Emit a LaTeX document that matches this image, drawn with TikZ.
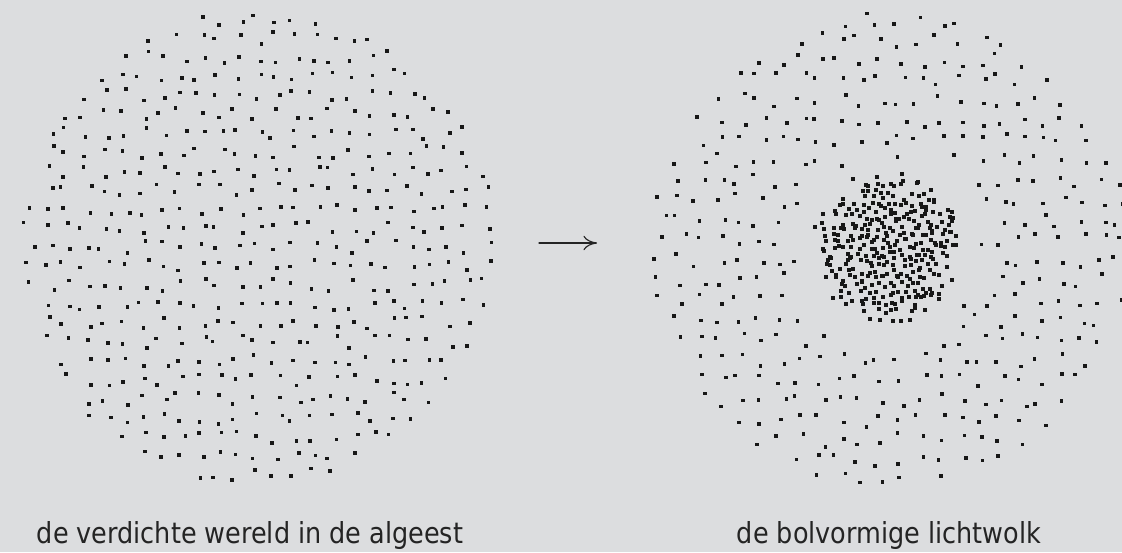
\documentclass[tikz,border=0pt]{standalone}
\usepackage{fontspec}
\usepackage{tikz}
\usetikzlibrary{calc}
\usetikzlibrary{arrows,arrows.meta}
\newfontfamily\onderschrift[FakeStretch=0.88]{DejaVu Sans}
\definecolor{dcdddf}{rgb}{0.8627,0.8667,0.8745}
\definecolor{qqqqqq}{rgb}{0.09,0.09,0.09}
\definecolor{ttttqq}{rgb}{0.14,0.14,0.14}
\tikzstyle{every node}=[font=\fontsize{20.6}{24}\onderschrift,color=ttttqq,anchor=base,inner sep=0pt]
\tikzstyle{stip}=[fill=qqqqqq]

\begin{document}
\begin{tikzpicture}[line cap=round,line join=round,>={Computer Modern Rightarrow[length=3.4mm,width=3.6mm]},x=0.025cm,y=-0.025cm]
    \clip(0,0) rectangle (1122,552);
    \fill[color=dcdddf] (0,0) rectangle (1122,552);
    \pgfmathsetseed{4711}
    % verdichte wereld
    \foreach \i in {0,...,26}{
        \foreach \j in {0,...,26}{
            \pgfmathsetmacro\px{10+\i*19+6.5*rand}
            \pgfmathsetmacro\py{0+\j*19+6.5*rand}
            \pgfmathparse{veclen(\px-258,\py-249)<239 ? 1 : 0}
            \ifnum\pgfmathresult=1
                \fill[stip] (\px-1.8,\py-1.8) rectangle +(3.6,3.6);
            \fi
        }
    }
    % bolvormige lichtwolk, buitenste deel
    \foreach \i in {0,...,25}{
        \foreach \j in {0,...,25}{
            \pgfmathsetmacro\px{640+\i*20+7*rand}
            \pgfmathsetmacro\py{0+\j*20+7*rand}
            \pgfmathsetmacro\r{veclen(\px-890,\py-249)}
            \pgfmathparse{(\r<239)&&(\r>88+22*rnd) ? 1 : 0}
            \ifnum\pgfmathresult=1
                \fill[stip] (\px-1.8,\py-1.8) rectangle +(3.6,3.6);
            \fi
        }
    }
    % kern
    \foreach \i in {0,...,26}{
        \foreach \j in {0,...,26}{
            \pgfmathsetmacro\px{808+\i*6.3+3.4*rand}
            \pgfmathsetmacro\py{166+\j*6.3+3.4*rand}
            \pgfmathsetmacro\r{veclen(\px-890,\py-248)}
            \pgfmathparse{(\r<66+14*rnd)&&(rnd<1-0.5*(\r/78)^2) ? 1 : 0}
            \ifnum\pgfmathresult=1
                \fill[stip] (\px-2,\py-2) rectangle +(4,4);
            \fi
        }
    }
    \coordinate (pijlA) at (539,243);
    \coordinate (pijlB) at (597,243);
    \draw [->,line width=0.8pt,color=ttttqq] (pijlA) -- (pijlB);
    \node (links) at (250,543) {de verdichte wereld in de algeest};
    \node (rechts) at (889,543) {de bolvormige lichtwolk};
\end{tikzpicture}
\end{document}
